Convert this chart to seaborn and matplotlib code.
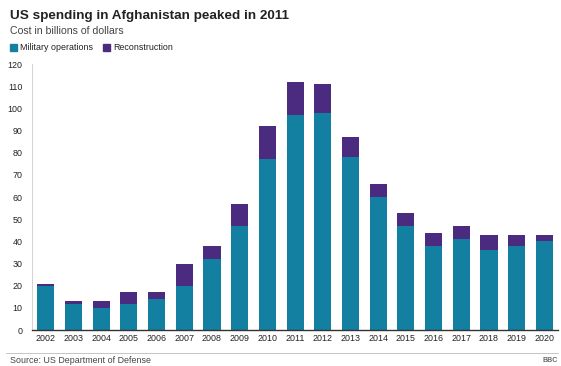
import numpy as np
import pandas as pd
import matplotlib.pyplot as plt
import seaborn as sns

# data (billions of dollars)
years = [str(y) for y in range(2002, 2021)]
military = [20, 12, 10, 12, 14, 20, 32, 47, 77, 97, 98, 78, 60, 47, 38, 41, 36, 38, 40]
reconstruction = [1, 1, 3, 5, 3, 10, 6, 10, 15, 15, 13, 9, 6, 6, 6, 6, 7, 5, 3]
yticks = list(range(0, 121, 10))

teal = '#1380A1'
purple = '#4B2B7F'

df = pd.DataFrame({'year': years, 'military': military, 'reconstruction': reconstruction})
df['total'] = df['military'] + df['reconstruction']

sns.set_style('white')
plt.rcParams['font.family'] = ['Liberation Sans', 'DejaVu Sans']

fig = plt.figure(figsize=(5.61, 3.66), dpi=100)
ax = fig.add_axes([0.057, 0.098, 0.938, 0.727])

# stacked bars: total (purple) behind, military (teal) in front
sns.barplot(data=df, x='year', y='total', color=purple, width=0.62, saturation=1,
            linewidth=0, ax=ax)
sns.barplot(data=df, x='year', y='military', color=teal, width=0.62, saturation=1,
            linewidth=0, ax=ax)

ax.set_ylim(0, 120)
ax.set_xlim(-0.5, 18.5)
ax.set_yticks(yticks)
ax.set_xlabel('')
ax.set_ylabel('')
ax.tick_params(axis='both', labelsize=6.4, colors='#222222', length=0, pad=3)
ax.tick_params(axis='y', pad=7)

for s in ['top', 'right']:
    ax.spines[s].set_visible(False)
ax.spines['left'].set_color('#cccccc')
ax.spines['left'].set_linewidth(0.6)
ax.spines['bottom'].set_color('#333333')
ax.spines['bottom'].set_linewidth(1.0)

# titles
fig.text(0.018, 0.955, 'US spending in Afghanistan peaked in 2011',
         fontsize=9.7, fontweight='bold', color='#222222', va='center')
fig.text(0.018, 0.916, 'Cost in billions of dollars', fontsize=7.6, color='#444444', va='center')

# legend
fig.patches.append(plt.Rectangle((0.018, 0.861), 0.013, 0.02, color=teal, transform=fig.transFigure))
fig.text(0.035, 0.871, 'Military operations', fontsize=6.4, color='#222222', va='center')
fig.patches.append(plt.Rectangle((0.183, 0.861), 0.013, 0.02, color=purple, transform=fig.transFigure))
fig.text(0.201, 0.871, 'Reconstruction', fontsize=6.4, color='#222222', va='center')

# footer
fig.add_artist(plt.Line2D([0.01, 0.995], [0.036, 0.036], color='#bbbbbb', lw=0.6, transform=fig.transFigure))
fig.text(0.018, 0.015, 'Source: US Department of Defense', fontsize=6.4, color='#444444', va='center')
fig.text(0.995, 0.015, 'BBC', fontsize=5, color='#666666', fontweight='bold', ha='right', va='center')

fig.savefig('out.png', dpi=100)
